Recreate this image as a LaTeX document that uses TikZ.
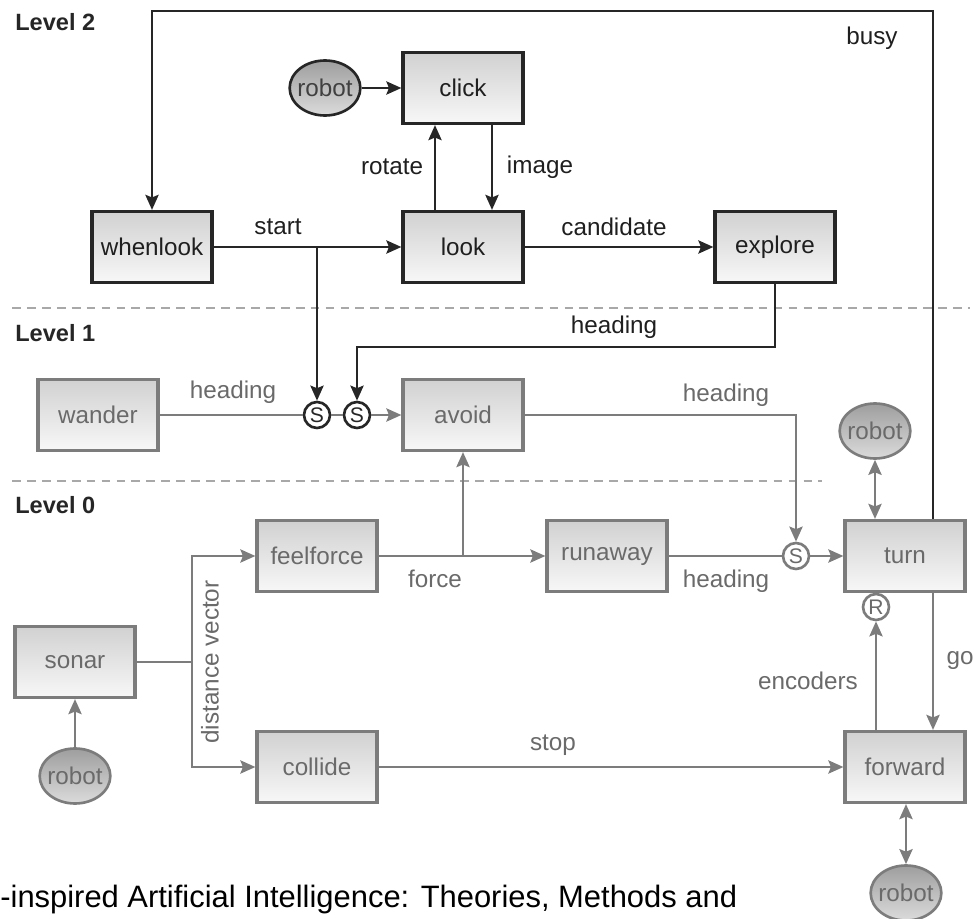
\documentclass[tikz,border=0pt]{standalone}
\usepackage{fontspec}
\setmainfont{Liberation Sans}
\usetikzlibrary{arrows.meta,shapes.geometric,calc}
\definecolor{dk}{HTML}{262626}
\definecolor{gl}{HTML}{7C7C7C}
\definecolor{gt}{HTML}{6A6A6A}
\definecolor{dash}{HTML}{A8A8A8}
\newcommand\lblfont{\fontsize{13.8}{16}\selectfont}
\newcommand\lvlfont{\fontsize{13.4}{16}\selectfont\bfseries}
\tikzset{
  box/.style={draw, line width=1.8pt, minimum width=2.4cm, minimum height=1.42cm,
    inner sep=0pt, top color=black!18, bottom color=black!3, font=\lblfont},
  dbox/.style={box, draw=dk, text=black!88},
  gbox/.style={box, draw=gl, text=gt},
  bot/.style={ellipse, line width=1.5pt, minimum width=1.36cm, minimum height=1.1cm,
    inner xsep=-1.5pt, inner ysep=0pt, top color=black!38, bottom color=black!14, font=\lblfont},
  dbot/.style={bot, draw=dk, text=black!75},
  gbot/.style={bot, draw=gl, text=gt},
  sw/.style={circle, line width=1.5pt, minimum size=0.52cm, inner sep=0pt,
    fill=white, font=\fontsize{12}{13}\selectfont},
  dsw/.style={sw, draw=dk, text=dk},
  gsw/.style={sw, draw=gl, text=gt},
  tip/.style={-{Stealth[length=8.5pt,width=7.4pt,inset=1.4pt]}},
  dline/.style={draw=dk, line width=1.7pt},
  gline/.style={draw=gl, line width=1.7pt},
  darr/.style={dline, tip},
  garr/.style={gline, tip},
  gboth/.style={gline, {Stealth[length=8.5pt,width=7.4pt,inset=1.4pt]}-{Stealth[length=8.5pt,width=7.4pt,inset=1.4pt]}},
  dlab/.style={font=\lblfont, text=black!88, inner sep=1pt},
  glab/.style={font=\lblfont, text=gt, inner sep=1pt},
  lvl/.style={font=\lvlfont, text=black!85, anchor=west, inner sep=0pt},
  sep/.style={draw=dash, line width=1pt, dash pattern=on 5pt off 3.5pt},
}
\begin{document}
\begin{tikzpicture}[x=0.02cm, y=-0.02cm]
  \useasboundingbox[fill=white] (0,0) rectangle (975,919);

  % layer separators and titles
  \draw[sep] (12,308) -- (970,308);
  \draw[sep] (12,481) -- (822,481);
  \node[lvl] (lv2) at (15,22) {Level 2};
  \node[lvl] (lv1) at (15,333) {Level 1};
  \node[lvl] (lv0) at (15,505) {Level 0};

  % level 2 modules
  \node[dbox] (click) at (463,88) {click};
  \node[dbot] (robotA) at (325,88) {robot};
  \node[dbox] (whenlook) at (152,247) {whenlook};
  \node[dbox] (look) at (463,247) {look};
  \node[dbox] (explore) at (775,247) {explore};

  % level 1 modules
  \node[gbox] (wander) at (98,415) {wander};
  \node[gbox] (avoid) at (463,415) {avoid};
  \node[dsw] (s1) at (317,415) {S};
  \node[dsw] (s2) at (357,415) {S};

  % level 0 modules
  \node[gbox] (feelforce) at (317,556) {feelforce};
  \node[gbox] (runaway) at (607,556) {runaway};
  \node[gbox] (turn) at (905,556) {turn};
  \node[gsw] (s3) at (796,556) {S};
  \node[gsw] (rr) at (876,607) {R};
  \node[gbot] (robotB) at (875,431) {robot};
  \node[gbox] (sonar) at (75,662) {sonar};
  \node[gbot] (robotC) at (75,776) {robot};
  \node[gbox] (collide) at (317,767) {collide};
  \node[gbox] (forward) at (905,767) {forward};
  \node[gbot] (robotD) at (906,893) {robot};

  % routing points
  \coordinate (topR) at (933,11);
  \coordinate (hd) at (357,347);
  \coordinate (tr) at (192,662);

  % level 2 wiring
  \draw[darr] (turn.north -| topR) -- (topR) -| (whenlook.north);
  \node[dlab] (lbBusy) at (872,38) {busy};
  \draw[darr] (robotA) -- (click);
  \draw[darr] ($(look.north)+(-28,0)$) -- ($(click.south)+(-28,0)$);
  \draw[darr] ($(click.south)+(29,0)$) -- ($(look.north)+(29,0)$);
  \node[dlab] (lbRot) at (392,167) {rotate};
  \node[dlab] (lbImg) at (540,167) {image};
  \draw[darr] (whenlook) -- (look);
  \node[dlab] (lbStart) at (278,227) {start};
  \draw[darr] (s1 |- whenlook.east) -- (s1.north);
  \draw[darr] (look) -- (explore);
  \node[dlab] (lbCand) at (614,227) {candidate};
  \draw[darr] (explore.south) |- (hd) -- (s2.north);
  \node[dlab] (lbHd2) at (614,327) {heading};

  % level 1 wiring
  \draw[gline] (wander) -- (s1);
  \node[glab] (lbHdW) at (233,392) {heading};
  \draw[gline] (s1) -- (s2);
  \draw[garr] (s2) -- (avoid);
  \draw[garr] (avoid.east) -| (s3.north);
  \node[glab] (lbHdA) at (726,395) {heading};

  % level 0 wiring
  \draw[garr] (feelforce) -- (runaway);
  \draw[garr] (avoid.south |- feelforce.east) -- (avoid.south);
  \node[glab] (lbForce) at (435,579) {force};
  \draw[gline] (runaway) -- (s3);
  \draw[garr] (s3) -- (turn);
  \node[glab] (lbHdR) at (726,581) {heading};
  \draw[gboth] (robotB.south) -- (robotB.south |- turn.north);
  \draw[garr] (turn.south -| topR) -- (forward.north -| topR);
  \node[glab] (lbGo) at (960,660) {go};
  \draw[garr] (rr.south |- forward.north) -- (rr.south);
  \node[glab] (lbEnc) at (808,681) {encoders};
  \draw[gboth] (robotD.north |- forward.south) -- (robotD.north);
  \draw[garr] (robotC) -- (sonar);
  \draw[gline] (sonar.east) -- (tr);
  \draw[garr] (tr) |- (feelforce.west);
  \draw[garr] (tr) |- (collide.west);
  \node[glab, rotate=90] (lbDist) at (210,662) {distance vector};
  \draw[garr] (collide) -- (forward);
  \node[glab] (lbStop) at (553,745) {stop};

  % caption fragment
  \node[anchor=base west, inner sep=0pt, font=\fontsize{17.6}{20}\selectfont] (cap) at (0,907)
    {-inspired Artificial Intelligence: Theories, Methods and};
\end{tikzpicture}
\end{document}
